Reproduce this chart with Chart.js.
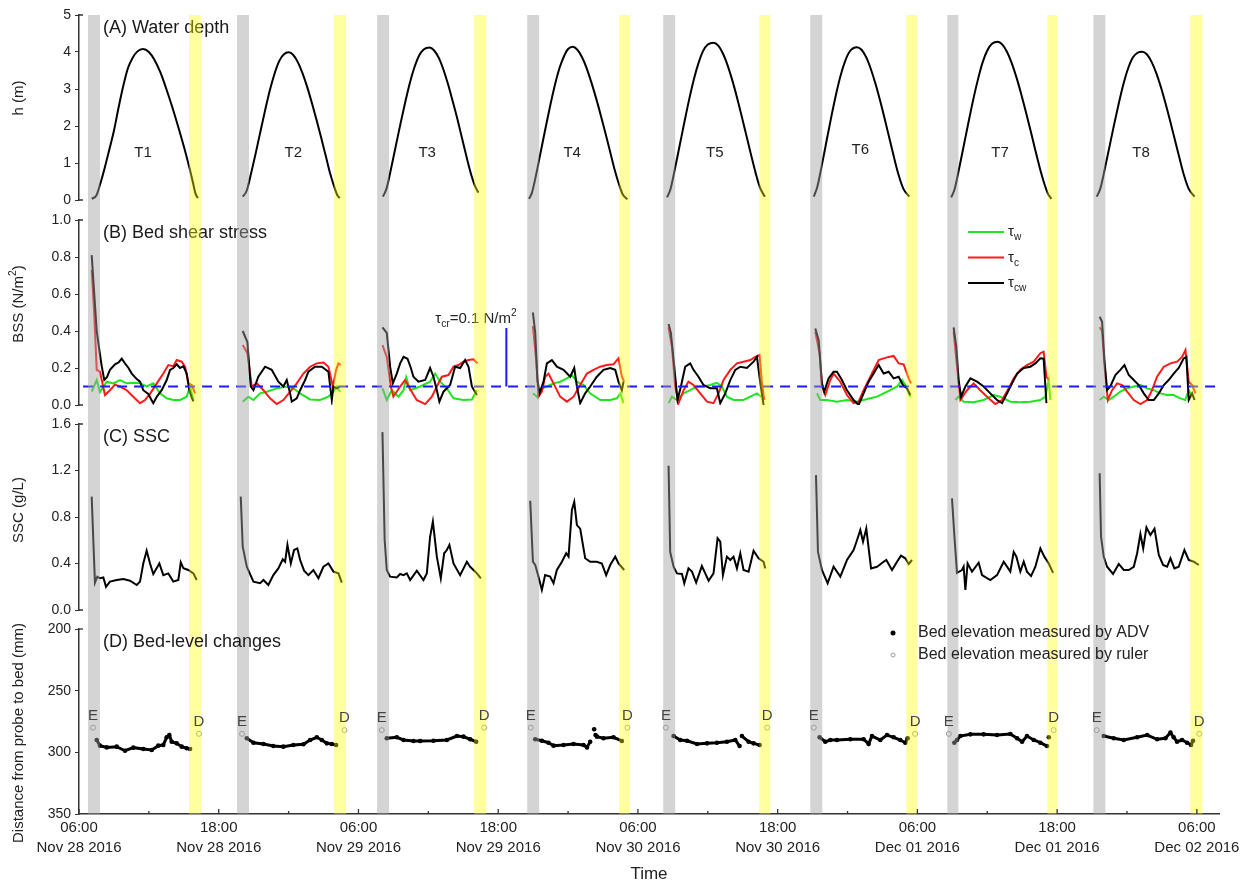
<!DOCTYPE html>
<html lang="en">
<head>
<meta charset="UTF-8">
<title>Water depth, bed shear stress, SSC and bed-level changes</title>
<script src="https://cdn.jsdelivr.net/npm/chart.js"></script>
<style>
  body { margin: 0; background: #fff; }
  #wrap { position: relative; width: 1254px; height: 888px; }
  #wrap canvas { position: absolute; left: 0; top: 0; }
</style>
</head>
<body>
<div id="wrap">
  <canvas id="cA" width="1254" height="888"></canvas>
  <canvas id="cB" width="1254" height="888"></canvas>
  <canvas id="cC" width="1254" height="888"></canvas>
  <canvas id="cD" width="1254" height="888"></canvas>
</div>
<script>
// time axis: hours since Nov 28 2016 06:00
const tickHours = [0, 12, 24, 36, 48, 60, 72, 84, 96];
const tickLabels = [
  ['06:00', 'Nov 28 2016'], ['18:00', 'Nov 28 2016'], ['06:00', 'Nov 29 2016'],
  ['18:00', 'Nov 29 2016'], ['06:00', 'Nov 30 2016'], ['18:00', 'Nov 30 2016'],
  ['06:00', 'Dec 01 2016'], ['18:00', 'Dec 01 2016'], ['06:00', 'Dec 02 2016']
];
const minorHours = [6, 18, 30, 42, 54, 66, 78, 90];

// emersion (gray) and drainage (yellow) periods
const grayStart   = [0.77, 13.57, 25.60, 38.49, 50.17, 62.80, 74.57, 87.11];
const grayEnd     = [1.80, 14.60, 26.63, 39.52, 51.20, 63.83, 75.52, 88.14];
const yellowStart = [9.45, 21.91, 33.93, 46.39, 58.42, 71.05, 83.16, 95.45];
const yellowEnd   = [10.48, 22.94, 34.97, 47.30, 59.36, 71.99, 84.02, 96.48];

const tideNames = ['T1', 'T2', 'T3', 'T4', 'T5', 'T6', 'T7', 'T8'];
const tideNameHours = [5.5, 18.4, 29.9, 42.35, 54.6, 67.1, 79.1, 91.2];
const tideNameDepth = [1.27, 1.27, 1.27, 1.27, 1.27, 1.35, 1.27, 1.27];

// (A) water depth h (m), one list per tide
const depth = [
  [[1.1,0.03],[1.5,0.13],[1.8,0.41],[2.2,0.86],[2.6,1.36],[3.0,1.87],[3.4,2.50],[3.8,3.08],[4.2,3.56],[4.6,3.84],[5.0,4.01],[5.5,4.08],[6.0,4.00],[6.5,3.78],[7.0,3.44],[7.5,3.00],[8.0,2.52],[8.5,2.00],[9.0,1.45],[9.5,0.85],[9.8,0.45],[10.0,0.18],[10.2,0.05]],
  [[14.06,0.09],[14.4,0.25],[14.8,0.75],[15.2,1.30],[15.6,1.88],[16.0,2.45],[16.4,2.98],[16.8,3.42],[17.2,3.76],[17.6,3.94],[18.0,3.99],[18.4,3.92],[18.8,3.72],[19.2,3.42],[19.6,3.05],[20.0,2.62],[20.4,2.16],[20.8,1.68],[21.2,1.18],[21.6,0.68],[22.0,0.28],[22.2,0.12],[22.4,0.05]],
  [[26.1,0.09],[26.4,0.30],[26.8,0.85],[27.2,1.45],[27.6,2.05],[28.0,2.62],[28.4,3.15],[28.8,3.58],[29.2,3.90],[29.6,4.07],[30.1,4.12],[30.5,4.04],[30.9,3.84],[31.3,3.52],[31.7,3.12],[32.1,2.66],[32.5,2.18],[32.9,1.66],[33.3,1.14],[33.7,0.66],[34.0,0.38],[34.3,0.20]],
  [[38.65,0.03],[38.9,0.20],[39.3,0.75],[39.7,1.38],[40.1,2.00],[40.5,2.60],[40.9,3.15],[41.3,3.60],[41.7,3.92],[42.0,4.08],[42.4,4.14],[42.8,4.06],[43.2,3.86],[43.6,3.56],[44.0,3.18],[44.4,2.76],[44.8,2.30],[45.2,1.82],[45.6,1.32],[46.0,0.82],[46.4,0.40],[46.7,0.15],[47.1,0.02]],
  [[50.5,0.07],[50.8,0.30],[51.2,0.88],[51.6,1.50],[52.0,2.12],[52.4,2.72],[52.8,3.26],[53.2,3.70],[53.6,4.03],[54.0,4.20],[54.5,4.25],[54.9,4.17],[55.3,3.96],[55.7,3.64],[56.1,3.24],[56.5,2.78],[56.9,2.28],[57.3,1.76],[57.7,1.24],[58.1,0.74],[58.5,0.32],[58.9,0.09]],
  [[63.1,0.09],[63.4,0.35],[63.8,0.95],[64.2,1.60],[64.6,2.24],[65.0,2.84],[65.4,3.36],[65.8,3.76],[66.2,4.02],[66.8,4.13],[67.2,4.06],[67.6,3.86],[68.0,3.54],[68.4,3.14],[68.8,2.68],[69.2,2.18],[69.6,1.66],[70.0,1.14],[70.4,0.66],[70.8,0.30],[71.3,0.09]],
  [[74.9,0.07],[75.2,0.30],[75.6,0.88],[76.0,1.50],[76.4,2.12],[76.8,2.72],[77.2,3.26],[77.6,3.72],[78.0,4.04],[78.4,4.22],[78.9,4.28],[79.3,4.20],[79.7,4.00],[80.1,3.70],[80.5,3.32],[80.9,2.88],[81.3,2.40],[81.7,1.90],[82.1,1.38],[82.5,0.88],[82.9,0.44],[83.2,0.18],[83.5,0.03]],
  [[87.4,0.09],[87.7,0.30],[88.1,0.85],[88.5,1.45],[88.9,2.05],[89.3,2.62],[89.7,3.14],[90.1,3.56],[90.5,3.85],[90.9,3.98],[91.3,4.01],[91.7,3.94],[92.1,3.74],[92.5,3.44],[92.9,3.06],[93.3,2.62],[93.7,2.14],[94.1,1.64],[94.5,1.14],[94.9,0.66],[95.3,0.30],[95.8,0.09]]
];

// (B) bed shear stress (N/m2)
const tauCw = [
  [[1.09,0.81],[1.52,0.40],[1.74,0.30],[1.95,0.21],[2.17,0.135],[2.4,0.15],[2.66,0.19],[3.09,0.22],[3.4,0.23],[3.67,0.25],[3.95,0.225],[4.25,0.20],[4.53,0.17],[4.96,0.14],[5.24,0.126],[5.52,0.08],[5.95,0.06],[6.2,0.03],[6.38,0.01],[6.68,0.045],[7.10,0.08],[7.53,0.135],[7.82,0.19],[8.10,0.20],[8.39,0.22],[8.68,0.20],[8.96,0.21],[9.25,0.17],[9.48,0.08],[9.68,0.04],[9.82,0.02]],
  [[14.06,0.40],[14.46,0.34],[14.75,0.10],[14.98,0.08],[15.40,0.153],[15.98,0.207],[16.55,0.19],[17.12,0.126],[17.55,0.10],[17.84,0.135],[18.13,0.063],[18.27,0.018],[18.70,0.036],[18.99,0.08],[19.42,0.135],[19.70,0.18],[20.27,0.207],[20.85,0.207],[21.42,0.18],[21.71,0.027],[21.85,0.10],[22.14,0.09],[22.42,0.10]],
  [[26.06,0.42],[26.43,0.39],[26.72,0.207],[26.95,0.117],[27.29,0.17],[27.58,0.225],[27.87,0.26],[28.21,0.25],[28.5,0.20],[28.72,0.153],[29.15,0.126],[29.73,0.135],[30.15,0.20],[30.44,0.153],[30.73,0.08],[30.95,0.018],[31.30,0.072],[31.87,0.108],[32.30,0.207],[32.73,0.20],[33.16,0.243],[33.45,0.207],[33.74,0.10],[34.17,0.054]],
  [[38.98,0.50],[39.18,0.39],[39.37,0.135],[39.55,0.063],[39.89,0.126],[40.18,0.225],[40.61,0.243],[41.04,0.207],[41.61,0.19],[42.18,0.153],[42.53,0.20],[42.76,0.10],[43.04,0.01],[43.47,0.063],[43.90,0.10],[44.47,0.153],[45.04,0.19],[45.62,0.20],[46.05,0.19],[46.33,0.126],[46.62,0.08],[46.76,0.126]],
  [[50.63,0.438],[50.83,0.39],[51.12,0.207],[51.40,0.027],[51.69,0.10],[52.06,0.207],[52.49,0.225],[52.77,0.19],[53.20,0.153],[53.63,0.108],[54.21,0.09],[54.78,0.09],[55.07,0.01],[55.50,0.063],[55.93,0.135],[56.36,0.19],[56.79,0.207],[57.36,0.20],[57.93,0.234],[58.22,0.26],[58.51,0.117],[58.79,0.0]],
  [[63.23,0.414],[63.52,0.35],[63.80,0.117],[64.0,0.072],[64.37,0.144],[64.80,0.18],[65.09,0.18],[65.52,0.135],[65.95,0.08],[66.52,0.027],[66.95,0.0],[67.38,0.063],[67.81,0.126],[68.24,0.17],[68.67,0.216],[69.10,0.17],[69.53,0.18],[69.96,0.144],[70.39,0.153],[70.76,0.108],[71.11,0.09],[71.39,0.054]],
  [[75.11,0.42],[75.34,0.315],[75.54,0.135],[75.75,0.045],[76.12,0.10],[76.55,0.144],[77.12,0.126],[77.69,0.10],[78.26,0.063],[78.84,0.027],[79.27,0.01],[79.70,0.063],[80.13,0.117],[80.56,0.17],[81.13,0.20],[81.70,0.207],[82.13,0.225],[82.56,0.252],[82.84,0.25],[83.08,0.01]],
  [[87.65,0.477],[87.86,0.45],[88.06,0.243],[88.29,0.08],[88.57,0.10],[89.0,0.162],[89.43,0.19],[89.78,0.216],[90.15,0.162],[90.58,0.135],[91.01,0.108],[91.44,0.063],[91.86,0.027],[92.30,0.027],[92.73,0.063],[93.16,0.108],[93.58,0.135],[94.01,0.17],[94.44,0.20],[94.87,0.252],[95.10,0.26],[95.30,0.027],[95.59,0.063],[95.8,0.027]]
];
const tauC = [
  [[1.09,0.73],[1.3,0.50],[1.52,0.19],[1.80,0.18],[2.23,0.054],[2.66,0.08],[3.09,0.11],[3.52,0.10],[4.10,0.08],[4.66,0.045],[5.24,0.01],[5.67,0.027],[6.10,0.06],[6.68,0.117],[7.24,0.17],[7.67,0.216],[8.10,0.21],[8.39,0.243],[8.82,0.234],[9.11,0.207],[9.39,0.117],[9.68,0.108],[9.97,0.063]],
  [[14.06,0.324],[14.46,0.28],[14.84,0.10],[15.27,0.117],[15.84,0.08],[16.41,0.036],[16.98,0.005],[17.55,0.027],[18.13,0.072],[18.70,0.117],[19.27,0.17],[19.85,0.207],[20.42,0.225],[20.99,0.23],[21.42,0.207],[21.80,0.10],[22.08,0.19],[22.28,0.225],[22.48,0.216]],
  [[26.06,0.324],[26.43,0.26],[26.78,0.10],[27.0,0.045],[27.58,0.10],[28.0,0.135],[28.4,0.09],[29.0,0.027],[29.73,0.005],[30.30,0.045],[30.73,0.10],[31.16,0.153],[31.73,0.162],[32.16,0.207],[32.59,0.216],[33.01,0.234],[33.45,0.243],[33.88,0.247],[34.22,0.225]],
  [[38.98,0.427],[39.26,0.243],[39.46,0.045],[39.75,0.072],[40.03,0.153],[40.32,0.17],[40.75,0.117],[41.32,0.045],[41.90,0.018],[42.47,0.045],[43.04,0.108],[43.62,0.17],[44.18,0.19],[44.76,0.207],[45.33,0.216],[45.90,0.22],[46.33,0.252],[46.62,0.153],[46.82,0.126]],
  [[50.63,0.42],[50.92,0.315],[51.20,0.10],[51.49,0.01],[51.92,0.08],[52.34,0.126],[52.77,0.108],[53.35,0.063],[53.93,0.018],[54.49,0.01],[54.92,0.063],[55.35,0.135],[55.93,0.19],[56.50,0.225],[57.07,0.234],[57.65,0.243],[58.08,0.26],[58.45,0.27],[58.65,0.117],[58.85,0.027]],
  [[63.23,0.396],[63.60,0.28],[63.80,0.10],[64.09,0.054],[64.52,0.135],[64.80,0.17],[65.38,0.126],[65.95,0.054],[66.52,0.01],[66.95,0.018],[67.38,0.08],[67.96,0.153],[68.38,0.207],[68.67,0.243],[69.10,0.252],[69.53,0.26],[69.96,0.265],[70.39,0.225],[70.82,0.22],[71.25,0.144],[71.45,0.117]],
  [[75.11,0.396],[75.40,0.207],[75.69,0.027],[76.26,0.08],[76.83,0.117],[77.40,0.08],[77.98,0.045],[78.69,0.005],[79.27,0.027],[79.84,0.09],[80.27,0.144],[80.84,0.19],[81.41,0.216],[81.99,0.234],[82.56,0.28],[82.84,0.288],[83.08,0.153],[83.28,0.135]],
  [[87.65,0.42],[87.86,0.40],[88.06,0.22],[88.35,0.027],[88.72,0.08],[89.15,0.117],[89.58,0.108],[90.01,0.072],[90.58,0.027],[91.15,0.005],[91.73,0.027],[92.15,0.08],[92.58,0.153],[93.16,0.207],[93.73,0.225],[94.30,0.234],[94.73,0.26],[95.02,0.297],[95.30,0.126],[95.59,0.108],[95.88,0.063]]
];
const tauW = [
  [[1.09,0.072],[1.52,0.135],[1.80,0.07],[2.38,0.126],[2.95,0.117],[3.52,0.135],[4.10,0.117],[4.67,0.12],[5.24,0.117],[5.81,0.10],[6.38,0.117],[6.96,0.063],[7.53,0.036],[8.10,0.027],[8.68,0.027],[9.25,0.045],[9.54,0.10],[9.82,0.027]],
  [[14.06,0.018],[14.55,0.045],[14.98,0.027],[15.55,0.063],[16.13,0.072],[16.98,0.09],[17.84,0.10],[18.41,0.09],[18.99,0.063],[19.85,0.03],[20.70,0.027],[21.42,0.045],[21.85,0.072],[22.14,0.10],[22.42,0.07]],
  [[26.06,0.09],[26.43,0.027],[26.86,0.08],[27.43,0.045],[27.87,0.08],[28.1,0.15],[28.44,0.08],[29.3,0.10],[30.15,0.126],[30.58,0.17],[31.01,0.126],[31.59,0.09],[32.16,0.036],[33.01,0.027],[33.74,0.03],[34.17,0.08]],
  [[38.98,0.063],[39.33,0.045],[39.75,0.09],[40.18,0.10],[40.75,0.117],[41.32,0.126],[41.90,0.144],[42.33,0.162],[42.76,0.126],[43.33,0.108],[43.90,0.063],[44.76,0.027],[45.62,0.027],[46.19,0.036],[46.5,0.063],[46.76,0.01]],
  [[50.63,0.01],[50.92,0.045],[51.35,0.027],[51.92,0.063],[52.49,0.08],[53.06,0.10],[53.63,0.10],[54.21,0.108],[54.78,0.12],[55.21,0.10],[55.64,0.045],[56.22,0.027],[57.07,0.027],[57.65,0.045],[58.22,0.063],[58.6,0.045]],
  [[63.38,0.063],[63.66,0.027],[64.23,0.027],[65.09,0.018],[65.95,0.027],[66.81,0.018],[67.38,0.027],[67.96,0.036],[68.53,0.045],[69.10,0.063],[69.67,0.08],[70.25,0.10],[70.68,0.135],[70.97,0.108],[71.39,0.045]],
  [[75.26,0.027],[75.54,0.045],[75.98,0.018],[76.83,0.015],[77.69,0.027],[78.55,0.054],[79.12,0.045],[79.98,0.018],[80.84,0.015],[81.70,0.018],[82.56,0.027],[82.99,0.045],[83.28,0.135],[83.42,0.027]],
  [[87.65,0.027],[88.0,0.045],[88.43,0.027],[88.86,0.045],[89.43,0.072],[90.01,0.09],[90.58,0.10],[91.15,0.108],[91.73,0.09],[92.30,0.08],[92.87,0.063],[93.44,0.054],[94.01,0.054],[94.58,0.036],[95.0,0.027],[95.30,0.08],[95.59,0.045]]
];
const tauCr = [[[0.35, 0.1], [97.6, 0.1]]];
const tauCrMark = [[[36.7, 0.1], [36.7, 0.416]]];

// (C) SSC (g/L)
const ssc = [
  [[1.09,0.975],[1.23,0.60],[1.37,0.235],[1.57,0.287],[1.80,0.273],[2.09,0.28],[2.32,0.20],[2.66,0.244],[3.24,0.258],[3.81,0.267],[4.38,0.252],[4.96,0.215],[5.24,0.244],[5.52,0.40],[5.81,0.51],[6.10,0.40],[6.38,0.31],[6.90,0.40],[7.24,0.30],[7.67,0.315],[8.10,0.244],[8.53,0.258],[8.74,0.41],[8.96,0.36],[9.39,0.344],[9.82,0.315],[10.11,0.258]],
  [[13.89,0.975],[14.06,0.545],[14.41,0.372],[14.98,0.244],[15.55,0.23],[15.84,0.258],[16.26,0.215],[16.69,0.30],[17.12,0.358],[17.50,0.436],[17.70,0.415],[17.90,0.56],[18.19,0.40],[18.47,0.516],[18.75,0.53],[18.99,0.43],[19.33,0.338],[19.70,0.30],[20.13,0.344],[20.56,0.273],[20.99,0.372],[21.42,0.40],[21.85,0.33],[22.28,0.315],[22.57,0.235]],
  [[26.06,1.53],[26.25,0.60],[26.43,0.344],[26.72,0.287],[27.29,0.28],[27.58,0.31],[27.87,0.30],[28.15,0.315],[28.44,0.258],[29.01,0.338],[29.58,0.258],[29.87,0.315],[30.15,0.63],[30.39,0.76],[30.73,0.459],[31.07,0.273],[31.36,0.488],[31.59,0.516],[31.81,0.56],[32.16,0.40],[32.73,0.30],[33.31,0.415],[33.59,0.372],[34.17,0.315],[34.51,0.273]],
  [[38.75,0.94],[38.98,0.415],[39.18,0.387],[39.46,0.287],[39.75,0.172],[40.03,0.30],[40.46,0.287],[40.75,0.23],[41.04,0.344],[41.47,0.415],[41.84,0.488],[42.04,0.459],[42.33,0.86],[42.53,0.93],[42.76,0.73],[43.04,0.70],[43.47,0.445],[43.90,0.415],[44.47,0.415],[44.90,0.40],[45.27,0.30],[45.62,0.387],[46.05,0.459],[46.33,0.40],[46.82,0.344]],
  [[50.63,1.24],[50.77,0.50],[51.06,0.372],[51.35,0.315],[51.78,0.31],[51.98,0.23],[52.34,0.358],[52.64,0.33],[53.0,0.235],[53.49,0.378],[53.78,0.315],[54.07,0.252],[54.49,0.315],[54.84,0.617],[55.07,0.588],[55.30,0.30],[55.64,0.459],[55.93,0.43],[56.21,0.459],[56.50,0.358],[56.79,0.488],[57.07,0.344],[57.50,0.33],[57.93,0.51],[58.36,0.445],[58.79,0.415],[58.93,0.358]],
  [[63.29,1.16],[63.46,0.50],[63.80,0.344],[64.29,0.23],[64.80,0.372],[65.38,0.287],[65.95,0.43],[66.52,0.516],[66.81,0.60],[67.10,0.688],[67.33,0.588],[67.61,0.70],[68.02,0.358],[68.53,0.372],[69.10,0.415],[69.33,0.43],[69.82,0.344],[70.25,0.415],[70.59,0.467],[70.96,0.445],[71.25,0.396],[71.54,0.43]],
  [[74.97,0.96],[75.17,0.645],[75.40,0.32],[75.83,0.344],[75.97,0.372],[76.12,0.172],[76.31,0.40],[76.69,0.33],[77.26,0.407],[77.55,0.30],[78.26,0.258],[78.84,0.30],[79.41,0.415],[79.98,0.33],[80.27,0.50],[80.50,0.459],[80.84,0.33],[81.13,0.415],[81.41,0.33],[81.76,0.292],[82.13,0.372],[82.56,0.53],[82.90,0.459],[83.28,0.40],[83.65,0.32]],
  [[87.65,1.176],[87.77,0.63],[88.0,0.459],[88.29,0.372],[88.80,0.31],[89.29,0.396],[89.72,0.344],[90.15,0.344],[90.58,0.372],[90.87,0.488],[91.15,0.654],[91.39,0.53],[91.67,0.71],[92.01,0.645],[92.36,0.70],[92.73,0.473],[93.10,0.387],[93.44,0.372],[93.73,0.445],[94.07,0.358],[94.44,0.372],[94.93,0.516],[95.30,0.43],[95.73,0.415],[96.16,0.387]]
];

// (D) distance from probe to bed (mm)
const bedAdv = [
  [[1.52,290],[1.80,294.6],[2.38,296],[3.24,295.4],[3.95,298.7],[4.67,296.2],[5.52,297.3],[6.25,298.1],[6.81,294.6],[7.24,294],[7.53,287.8],[7.76,286],[7.96,291.4],[8.39,292.7],[8.82,295.4],[9.25,296.7],[9.54,297.3]],
  [[14.41,288.6],[14.98,292.2],[15.84,293.2],[16.69,294.9],[17.55,295.4],[18.41,294],[19.27,293.5],[19.85,290],[20.42,287.8],[20.85,290],[21.28,292.7],[21.71,293.2],[22.08,294]],
  [[26.43,288.6],[27.29,287.8],[27.87,290],[28.72,290.8],[29.30,290.8],[30.44,290.6],[31.59,290],[32.45,286.8],[33.02,287.3],[33.59,289.4],[34.11,291.4]],
  [[39.18,289.4],[39.75,290.6],[40.32,292.2],[40.75,294.6],[41.61,294],[42.47,293.2],[43.33,294],[43.62,296],[43.90,291.4]],
  [[44.24,281.3]],
  [[44.36,286],[44.48,287.3],[45.04,288.6],[45.90,287.8],[46.62,290.8]],
  [[51.06,286.8],[51.63,290],[52.21,290.6],[53.07,293.2],[53.93,292.7],[54.78,292.2],[55.64,291.4],[56.36,290],[56.73,294.9]],
  [[56.93,286.8],[57.50,291.4],[57.93,292.7],[58.45,294]],
  [[63.60,287.8],[64.09,291.4],[64.52,290],[65.09,290],[66.24,289.4],[67.38,289.4],[67.81,293.2],[68.10,286.8],[68.81,290],[69.39,286],[69.96,287.8],[70.53,290],[70.96,292.2],[71.16,288.6]],
  [[75.17,292.2],[75.40,290],[75.69,286.8],[76.55,285.4],[77.69,285.4],[78.84,286],[79.98,285.1],[80.56,288.6],[80.99,291.4],[81.41,286.8],[81.99,290],[82.56,292.2],[83.13,294.9]],
  [[83.28,287.8]],
  [[88.0,286.8],[88.86,288.6],[89.72,290],[90.87,287.8],[91.73,286],[92.58,289.4],[93.30,288.6],[93.73,284],[94.01,287.8],[94.30,291.4],[94.73,290],[95.16,292.2],[95.50,294],[95.67,290.6]]
];
const ruler = [[[1.2,280],[10.3,285],[14.0,285],[22.8,282],[26.0,282],[34.8,280],[38.8,280],[47.1,280],[50.4,280],[59.1,280],[63.1,280],[71.8,285],[74.7,285],[83.7,282],[87.4,282],[96.2,285]]];
const rulerTags = ['E','D','E','D','E','D','E','D','E','D','E','D','E','D','E','D'];

const FAM = '"Liberation Sans", Arial, sans-serif';
const X_MAX = 97.9;
const PLOT_LEFT = 79, PLOT_RIGHT = 1219;
const panels = [
  { id: 'cA', top: 15,  bottom: 200, titleY: 98 },
  { id: 'cB', top: 220, bottom: 405, titleY: 304 },
  { id: 'cC', top: 424, bottom: 610, titleY: 510 },
  { id: 'cD', top: 629, bottom: 814, titleY: 733 }
];

function toPoints(segments) {
  const pts = [];
  segments.forEach((seg, i) => {
    if (i > 0) pts.push({ x: (pts[pts.length - 1].x + seg[0][0]) / 2, y: null });
    seg.forEach(([x, y]) => pts.push({ x, y }));
  });
  return pts;
}

function rich(ctx, parts, x, y, size, align) {
  const sizes = parts.map(p => p[1] ? size * 0.68 : size);
  let w = 0;
  parts.forEach((p, i) => { ctx.font = sizes[i] + 'px ' + FAM; w += ctx.measureText(p[0]).width; });
  let cx = align === 'center' ? x - w / 2 : x;
  ctx.textAlign = 'left';
  ctx.textBaseline = 'middle';
  parts.forEach((p, i) => {
    ctx.font = sizes[i] + 'px ' + FAM;
    const dy = p[1] === 'sub' ? size * 0.35 : (p[1] === 'sup' ? -size * 0.38 : 0);
    ctx.fillText(p[0], cx, y + dy);
    cx += ctx.measureText(p[0]).width;
  });
}

function panelText(chart, k, label, yTitle) {
  const ctx = chart.ctx, a = chart.chartArea, p = panels[k];
  ctx.save();
  // small inward caps at both ends of the y axis
  ctx.strokeStyle = '#333';
  ctx.lineWidth = 1.3;
  ctx.beginPath();
  ctx.moveTo(a.left, a.top); ctx.lineTo(a.left + 4, a.top);
  if (k < 3) { ctx.moveTo(a.left, a.bottom); ctx.lineTo(a.left + 4, a.bottom); }
  ctx.stroke();
  ctx.fillStyle = '#1a1a1a';
  ctx.font = '18px ' + FAM;
  ctx.textAlign = 'left';
  ctx.textBaseline = 'middle';
  ctx.fillText(label, PLOT_LEFT + 24, p.top + 13);
  ctx.translate(19, p.titleY);
  ctx.rotate(-Math.PI / 2);
  ctx.fillStyle = '#222';
  rich(ctx, yTitle, 0, 0, 15, 'center');
  ctx.restore();
}

function line(data, color, width, dash) {
  return { data: toPoints(data), borderColor: color, borderWidth: width || 2, borderDash: dash || [],
           pointRadius: 0, spanGaps: false, tension: 0 };
}

function yTicks(step, dec) {
  return { stepSize: step, padding: 4, color: '#222', font: { family: FAM, size: 14 },
           callback: v => dec === null ? v : v.toFixed(dec) };
}

function makePanel(k, datasets, yOpts, draw, xOpts) {
  const p = panels[k];
  const y = Object.assign({
    afterFit: s => { s.width = PLOT_LEFT; },
    border: { display: true, color: '#333', width: 1.5 },
    grid: { drawOnChartArea: false, drawTicks: true, tickLength: 4, color: '#333' }
  }, yOpts);
  return new Chart(document.getElementById(p.id), {
    type: 'line',
    data: { datasets },
    options: {
      responsive: false, animation: false, devicePixelRatio: 1,
      layout: { padding: { left: 0, right: 1254 - PLOT_RIGHT, top: p.top, bottom: xOpts ? 0 : 888 - p.bottom } },
      plugins: { legend: { display: false }, tooltip: { enabled: false } },
      scales: {
        x: xOpts || { type: 'linear', display: false, min: 0, max: X_MAX },
        y: y
      }
    },
    plugins: [{ id: 'deco' + k, afterDatasetsDraw: draw.under || (() => {}), afterDraw: draw.over || (() => {}) }]
  });
}

// (A)
const depthSet = line(depth, '#000', 2);
depthSet.cubicInterpolationMode = 'monotone';
makePanel(0, [depthSet], { min: 0, max: 5, ticks: yTicks(1, 0) }, {
  over: chart => {
    const ctx = chart.ctx, xs = chart.scales.x, ys = chart.scales.y;
    panelText(chart, 0, '(A) Water depth', [['h (m)']]);
    ctx.save();
    ctx.fillStyle = '#222';
    ctx.font = '15px ' + FAM;
    ctx.textAlign = 'center';
    ctx.textBaseline = 'middle';
    tideNames.forEach((t, i) => ctx.fillText(t, xs.getPixelForValue(tideNameHours[i]), ys.getPixelForValue(tideNameDepth[i])));
    ctx.restore();
  }
});

// (B)
makePanel(1, [
  line(tauCr, '#1a1aff', 2, [10, 7]),
  line(tauCrMark, '#1a1aff', 2),
  line(tauCw, '#000', 2),
  line(tauC, '#ff1a1a', 2),
  line(tauW, '#1ee61e', 2)
], { min: 0, max: 1, ticks: yTicks(0.2, 1) }, {
  over: chart => {
    const ctx = chart.ctx, xs = chart.scales.x, ys = chart.scales.y, a = chart.chartArea;
    panelText(chart, 1, '(B) Bed shear stress', [['BSS (N/m'], ['2', 'sup'], [')']]);
    ctx.save();
    ctx.fillStyle = '#222';
    rich(ctx, [['τ'], ['cr', 'sub'], ['=0.1 N/m'], ['2', 'sup']], xs.getPixelForValue(30.6), ys.getPixelForValue(0.465), 15, 'left');
    const keys = [['#1ee61e', 'w'], ['#ff1a1a', 'c'], ['#000', 'cw']];
    keys.forEach((k, i) => {
      const ly = a.top + 12 + i * 25.5;
      ctx.strokeStyle = k[0];
      ctx.lineWidth = 2;
      ctx.beginPath();
      ctx.moveTo(968, ly);
      ctx.lineTo(1004, ly);
      ctx.stroke();
      ctx.fillStyle = '#222';
      rich(ctx, [['τ'], [k[1], 'sub']], 1008, ly, 15, 'left');
    });
    ctx.restore();
  }
});

// (C)
makePanel(2, [line(ssc, '#000', 2)], { min: 0, max: 1.6, ticks: yTicks(0.4, 1) }, {
  over: chart => panelText(chart, 2, '(C) SSC', [['SSC (g/L)']])
});

// (D)
const advSet = line(bedAdv, '#000', 3);
advSet.pointRadius = 2.3;
advSet.pointBackgroundColor = '#000';
advSet.pointBorderWidth = 0;
const rulerSet = {
  data: toPoints(ruler), showLine: false, pointRadius: 2.5, pointBorderWidth: 1,
  pointBorderColor: '#999', pointBackgroundColor: 'rgba(0,0,0,0)'
};
makePanel(3, [advSet, rulerSet], { min: 200, max: 350, reverse: true, ticks: yTicks(50, null) }, {
  under: chart => {
    // emersion / drainage bands over all four panels
    const ctx = chart.ctx, xs = chart.scales.x;
    const top = panels[0].top, bottom = chart.chartArea.bottom;
    ctx.save();
    ctx.fillStyle = 'rgba(160,160,160,0.45)';
    grayStart.forEach((s, i) => {
      const x0 = xs.getPixelForValue(s), x1 = xs.getPixelForValue(grayEnd[i]);
      ctx.fillRect(x0, top, x1 - x0, bottom - top);
    });
    ctx.fillStyle = 'rgba(255,255,0,0.38)';
    yellowStart.forEach((s, i) => {
      const x0 = xs.getPixelForValue(s), x1 = xs.getPixelForValue(yellowEnd[i]);
      ctx.fillRect(x0, top, x1 - x0, bottom - top);
    });
    ctx.restore();
  },
  over: chart => {
    const ctx = chart.ctx, xs = chart.scales.x, ys = chart.scales.y, a = chart.chartArea;
    panelText(chart, 3, '(D) Bed-level changes', [['Distance from probe to bed (mm)']]);
    ctx.save();
    // inward x ticks
    ctx.strokeStyle = '#333';
    ctx.lineWidth = 1.3;
    ctx.beginPath();
    tickHours.forEach(h => { const x = xs.getPixelForValue(h); ctx.moveTo(x, a.bottom); ctx.lineTo(x, a.bottom - 5); });
    minorHours.forEach(h => { const x = xs.getPixelForValue(h); ctx.moveTo(x, a.bottom); ctx.lineTo(x, a.bottom - 3); });
    ctx.stroke();
    // E / D tags above ruler readings
    ctx.fillStyle = '#444';
    ctx.font = '15px ' + FAM;
    ctx.textAlign = 'center';
    ctx.textBaseline = 'middle';
    ruler[0].forEach((r, i) => ctx.fillText(rulerTags[i], xs.getPixelForValue(r[0]), ys.getPixelForValue(r[1]) - 12));
    // legend
    ctx.fillStyle = '#000';
    ctx.beginPath();
    ctx.arc(893, a.top + 4, 2.5, 0, Math.PI * 2);
    ctx.fill();
    ctx.strokeStyle = '#999';
    ctx.lineWidth = 1;
    ctx.beginPath();
    ctx.arc(893, a.top + 26, 2, 0, Math.PI * 2);
    ctx.stroke();
    ctx.fillStyle = '#222';
    ctx.font = '16px ' + FAM;
    ctx.textAlign = 'left';
    ctx.fillText('Bed elevation measured by ADV', 918, a.top + 4);
    ctx.fillText('Bed elevation measured by ruler', 918, a.top + 26);
    ctx.restore();
  }
}, {
  type: 'linear', min: 0, max: X_MAX,
  afterBuildTicks: s => { s.ticks = tickHours.map(v => ({ value: v })); },
  afterFit: s => { s.height = 888 - panels[3].bottom; },
  grid: { display: false, drawTicks: false },
  border: { display: true, color: '#333', width: 1.5 },
  ticks: {
    autoSkip: false, maxRotation: 0, padding: 4, color: '#222',
    font: { family: FAM, size: 15, lineHeight: 1.33 },
    callback: (v, i) => tickLabels[i]
  },
  title: { display: true, text: 'Time', color: '#222', font: { family: FAM, size: 17 }, padding: { top: 0, bottom: 3 } }
});
</script>
</body>
</html>
